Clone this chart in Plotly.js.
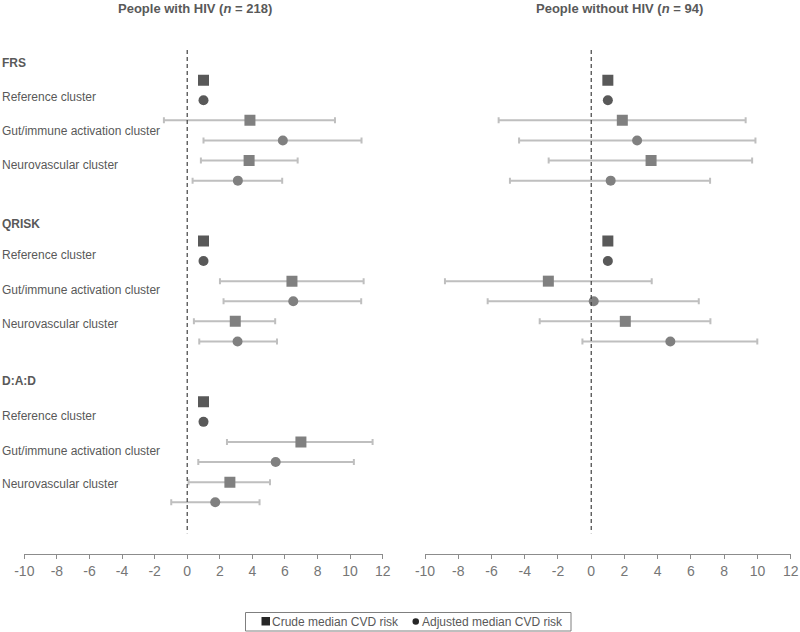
<!DOCTYPE html>
<html>
<head>
<meta charset="utf-8">
<script src="https://cdn.plot.ly/plotly-3.0.1.min.js"></script>
<style>html,body{margin:0;padding:0;background:#fff;}#chart{width:800px;height:632px;}</style>
</head>
<body>
<div id="chart"></div>
<script>
// ---------- DATA ----------
const scores = ["FRS", "QRISK", "D:A:D"];
const clusters = ["Reference cluster", "Gut/immune activation cluster", "Neurovascular cluster"];
const panelTitles = ["People with HIV (<i>n</i> = 218)", "People without HIV (<i>n</i> = 94)"];
const legendLabels = ["Crude median CVD risk", "Adjusted median CVD risk"];
const xTicks = [-10, -8, -6, -4, -2, 0, 2, 4, 6, 8, 10, 12];

// People with HIV: [score][cluster]
const hivCrude    = [[1, 3.85, 3.80], [1, 6.43, 2.95], [1, 6.98, 2.62]];
const hivCrudeLo  = [[null, -1.43, 0.84], [null, 2.01, 0.41], [null, 2.44, 0.08]];
const hivCrudeHi  = [[null, 9.07, 6.78], [null, 10.83, 5.40], [null, 11.38, 5.08]];
const hivAdj      = [[1, 5.87, 3.11], [1, 6.51, 3.09], [1, 5.43, 1.72]];
const hivAdjLo    = [[null, 1.00, 0.33], [null, 2.23, 0.74], [null, 0.68, -0.98]];
const hivAdjHi    = [[null, 10.70, 5.83], [null, 10.68, 5.51], [null, 10.23, 4.44]];

// People without HIV: [score][cluster]
const noCrude     = [[1, 1.87, 3.60], [1, -2.58, 2.05], [null, null, null]];
const noCrudeLo   = [[null, -5.57, -2.56], [null, -8.80, -3.10], [null, null, null]];
const noCrudeHi   = [[null, 9.29, 9.68], [null, 3.64, 7.17], [null, null, null]];
const noAdj       = [[1, 2.76, 1.17], [1, 0.15, 4.76], [null, null, null]];
const noAdjLo     = [[null, -4.34, -4.89], [null, -6.23, -0.53], [null, null, null]];
const noAdjHi     = [[null, 9.88, 7.15], [null, 6.47, 9.99], [null, null, null]];

// ---------- BUILD ----------
const FONT = "Liberation Sans, Arial, sans-serif";
const TXT = "#595959";
const TICKTXT = "#767676";
const DARK = "#595959";
const MID = "#808080";
const ERR = "#bfbfbf";

function rowY(s, c, adj) { return 8 * s + 2 * c + (adj ? 1 : 0); }

function makeTrace(pts, lo, hi, adj, xa, ya) {
  const x = [], y = [], plus = [], minus = [], col = [];
  for (let s = 0; s < scores.length; s++) {
    for (let c = 0; c < clusters.length; c++) {
      const v = pts[s][c];
      if (v === null) continue;
      x.push(v);
      y.push(rowY(s, c, adj));
      plus.push(hi[s][c] === null ? 0 : hi[s][c] - v);
      minus.push(lo[s][c] === null ? 0 : v - lo[s][c]);
      col.push(c === 0 ? DARK : MID);
    }
  }
  return {
    type: "scatter", mode: "markers", x: x, y: y, xaxis: xa, yaxis: ya,
    name: legendLabels[adj ? 1 : 0], showlegend: false, hoverinfo: "x",
    marker: { symbol: adj ? "circle" : "square", size: adj ? 10 : 11, color: col, line: { width: 0 } },
    error_x: { type: "data", symmetric: false, array: plus, arrayminus: minus,
               color: ERR, thickness: 2, width: 3 }
  };
}

const data = [
  makeTrace(hivCrude, hivCrudeLo, hivCrudeHi, false, "x", "y"),
  makeTrace(hivAdj, hivAdjLo, hivAdjHi, true, "x", "y"),
  makeTrace(noCrude, noCrudeLo, noCrudeHi, false, "x2", "y2"),
  makeTrace(noAdj, noAdjLo, noAdjHi, true, "x2", "y2")
];

const W = 800, TOP = 50, BOT = 554, PH = BOT - TOP;
const px = v => v / W;
const py = v => (BOT - v) / PH;

const xaxisBase = {
  range: [-10, 12], tickvals: xTicks, ticktext: xTicks.map(String),
  showgrid: false, zeroline: false, showline: true, linecolor: "#8c8c8c", linewidth: 1,
  ticks: "outside", ticklen: 4, tickcolor: "#8c8c8c", tickwidth: 1,
  tickfont: { family: FONT, size: 14, color: TICKTXT }, fixedrange: true
};
const yaxisBase = {
  range: [23.575, -1.5], visible: false, showgrid: false, zeroline: false, fixedrange: true
};

const annotations = [];
const headerY = [-0.85, 7.15, 14.95];
const labelY = [[0.85, 2.55, 4.23], [8.71, 10.45, 12.14], [16.7, 18.45, 20.1]];
scores.forEach((s, i) => {
  annotations.push({ xref: "paper", yref: "y", x: 0, y: headerY[i], xanchor: "left", yanchor: "middle",
    text: "<b>" + s + "</b>", showarrow: false, font: { family: FONT, size: 12, color: TXT } });
  clusters.forEach((c, j) => {
    annotations.push({ xref: "paper", yref: "y", x: 0, y: labelY[i][j], xanchor: "left", yanchor: "middle",
      text: c, showarrow: false, font: { family: FONT, size: 12, color: TXT } });
  });
});
annotations.push({ xref: "paper", yref: "paper", x: px(195), y: py(8), xanchor: "center", yanchor: "middle",
  text: "<b>" + panelTitles[0] + "</b>", showarrow: false, font: { family: FONT, size: 13, color: TXT } });
annotations.push({ xref: "paper", yref: "paper", x: px(619.5), y: py(8), xanchor: "center", yanchor: "middle",
  text: "<b>" + panelTitles[1] + "</b>", showarrow: false, font: { family: FONT, size: 13, color: TXT } });
// legend text
annotations.push({ xref: "paper", yref: "paper", x: px(270), y: py(621.5), xanchor: "left", yanchor: "middle",
  text: legendLabels[0], showarrow: false, font: { family: FONT, size: 12, color: TXT } });
annotations.push({ xref: "paper", yref: "paper", x: px(420), y: py(621.5), xanchor: "left", yanchor: "middle",
  text: legendLabels[1], showarrow: false, font: { family: FONT, size: 12, color: TXT } });

const shapes = [
  { type: "line", xref: "x", yref: "y", x0: 0, x1: 0, y0: -1.5, y1: 22.54,
    line: { color: "#404040", width: 1.2, dash: "4px,3px" } },
  { type: "line", xref: "x2", yref: "y2", x0: 0, x1: 0, y0: -1.5, y1: 22.54,
    line: { color: "#404040", width: 1.2, dash: "4px,3px" } },
  // legend box
  { type: "rect", xref: "paper", yref: "paper", x0: px(245.5), x1: px(571), y0: py(612.5), y1: py(631),
    line: { color: "#7f7f7f", width: 1 }, fillcolor: "rgba(0,0,0,0)" },
  { type: "rect", xref: "paper", yref: "paper", x0: px(261.5), x1: px(270), y0: py(617), y1: py(625.5),
    line: { width: 0 }, fillcolor: "#262626" },
  { type: "circle", xref: "paper", yref: "paper", x0: px(412.5), x1: px(419), y0: py(618.3), y1: py(624.8),
    line: { width: 0 }, fillcolor: "#262626" }
];

const layout = {
  width: 800, height: 632,
  margin: { l: 0, r: 0, t: TOP, b: 632 - BOT, pad: 0 },
  paper_bgcolor: "#ffffff", plot_bgcolor: "#ffffff",
  showlegend: false,
  xaxis: Object.assign({}, xaxisBase, { domain: [24.3 / W, 382.7 / W], anchor: "y" }),
  xaxis2: Object.assign({}, xaxisBase, { domain: [425 / W, 790.7 / W], anchor: "y2" }),
  yaxis: Object.assign({}, yaxisBase, { domain: [0, 1], anchor: "x" }),
  yaxis2: Object.assign({}, yaxisBase, { domain: [0, 1], anchor: "x2" }),
  annotations: annotations,
  shapes: shapes,
  font: { family: FONT, color: TXT }
};

Plotly.newPlot("chart", data, layout, { displayModeBar: false, staticPlot: true });
</script>
</body>
</html>
